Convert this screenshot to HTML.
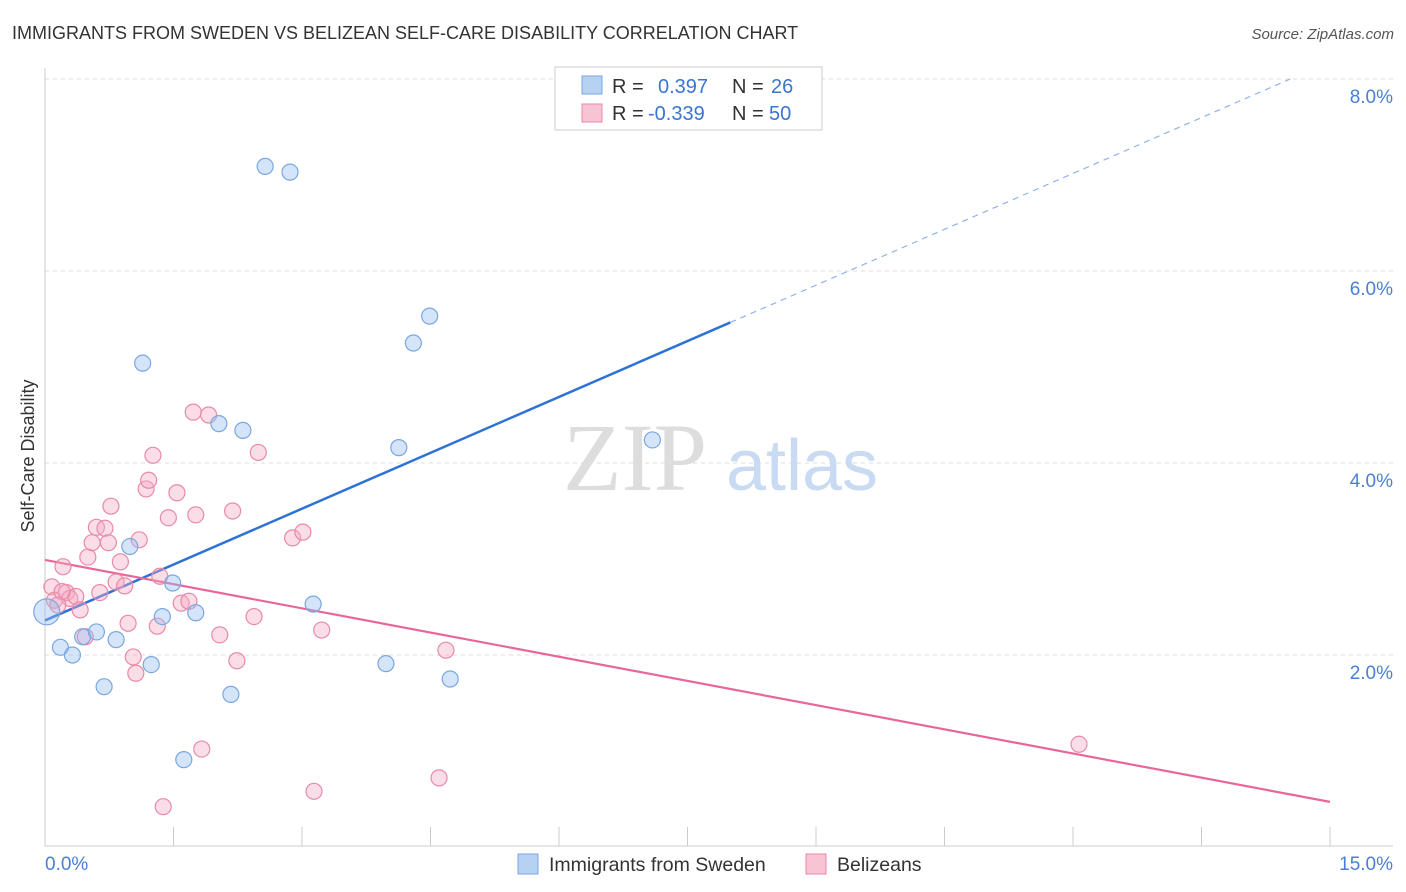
<!DOCTYPE html>
<html><head><meta charset="utf-8"><style>
body{margin:0;background:#fff;font-family:"Liberation Sans",sans-serif}
svg{display:block}
</style></head><body>
<svg id="chart" width="1406" height="892">
<text x="12" y="39" font-size="18" fill="#333">IMMIGRANTS FROM SWEDEN VS BELIZEAN SELF-CARE DISABILITY CORRELATION CHART</text>
<text x="1394" y="39" font-size="15" fill="#555" font-style="italic" text-anchor="end">Source: ZipAtlas.com</text>
<text transform="translate(34,456) rotate(-90)" font-size="18" fill="#333" text-anchor="middle">Self-Care Disability</text>
<g id="grid"></g>
<g>
<text x="635" y="490" font-size="96" fill="#ddd" font-family="Liberation Serif,serif" text-anchor="middle">ZIP</text>
<text x="802" y="490" font-size="72" fill="#c9daf3" text-anchor="middle">atlas</text>
</g>
<g id="lines"></g>
<g id="points"></g>
<g>
<rect x="555" y="67" width="267" height="63" fill="#fff" stroke="#ccc"/>
<rect x="582" y="76" width="20" height="18" fill="#b7d1f3" stroke="#7aa7e0"/>
<rect x="582" y="104" width="20" height="18" fill="#f8c3d3" stroke="#e88aa8"/>
<text x="612" y="93" font-size="20" fill="#333">R = <tspan fill="#3a75d0" x="658">0.397</tspan><tspan x="732" fill="#333">N = </tspan><tspan fill="#3a75d0" x="771">26</tspan></text>
<text x="612" y="120" font-size="20" fill="#333">R = <tspan fill="#3a75d0" x="648">-0.339</tspan><tspan x="732" fill="#333">N = </tspan><tspan fill="#3a75d0" x="769">50</tspan></text>
</g>
<g>
<rect x="518" y="854" width="20" height="20" fill="#b7d1f3" stroke="#7aa7e0"/>
<text x="549" y="871" font-size="19.5" fill="#333">Immigrants from Sweden</text>
<rect x="806" y="854" width="20" height="20" fill="#f8c3d3" stroke="#e88aa8"/>
<text x="837" y="871" font-size="19.5" fill="#333">Belizeans</text>
</g>
</svg>
<script>
const yTicks=[2,4,6,8];
const yTickLabels=["2.0%","4.0%","6.0%","8.0%"];
const xTicks=[1.5,3,4.5,6,7.5,9,10.5,12,13.5,15];
const blueX=[0.02,0.18,0.32,0.44,0.60,0.69,0.83,0.99,1.14,1.24,1.37,1.49,1.62,1.76,2.03,2.17,2.31,2.57,2.86,3.13,3.98,4.13,4.30,4.49,4.73,7.09];
const blueY=[2.45,2.08,2.00,2.19,2.24,1.67,2.16,3.13,5.04,1.90,2.40,2.75,0.91,2.44,4.41,1.59,4.34,7.09,7.03,2.53,1.91,4.16,5.25,5.53,1.75,4.24];
const pinkX=[0.08,0.11,0.21,0.25,0.29,0.36,0.41,0.47,0.50,0.55,0.60,0.64,0.70,0.74,0.77,0.83,0.88,0.93,0.97,1.03,1.06,1.10,1.18,1.21,1.26,1.31,1.34,1.38,1.44,1.54,1.59,1.68,1.73,1.76,1.83,1.91,2.04,2.19,2.24,2.44,2.49,2.89,3.01,3.14,3.23,4.60,4.68,12.07,0.20,0.15];
const pinkY=[2.71,2.57,2.92,2.65,2.59,2.61,2.47,2.19,3.02,3.17,3.33,2.65,3.32,3.17,3.55,2.76,2.97,2.72,2.33,1.98,1.81,3.20,3.73,3.82,4.08,2.30,2.82,0.42,3.43,3.69,2.54,2.56,4.53,3.46,1.02,4.50,2.21,3.50,1.94,2.40,4.11,3.22,3.28,0.58,2.26,0.72,2.05,1.07,2.66,2.52];
const blueLine=[2.36,0.388];
const pinkLine=[2.99,-0.168];
const X=v=>45+v/15*1285, Y=v=>847-v*96;
const NS="http://www.w3.org/2000/svg";
function mk(t,a,p){const e=document.createElementNS(NS,t);for(const k in a)e.setAttribute(k,a[k]);p.appendChild(e);return e;}
const g=document.getElementById('grid');
yTicks.forEach((t,i)=>{
 const l=mk('line',{x1:45,x2:1393,y1:Y(t),y2:Y(t),stroke:'#ddd','stroke-dasharray':'4,4'},g);
 
 
 const tx=mk('text',{x:1393,y:Y(t)+24,'font-size':19,fill:'#4a7fd4','text-anchor':'end'},g);
 tx.textContent=yTickLabels[i];
 
 
});
const ya=mk('line',{x1:45,x2:45,y1:68,y2:846,stroke:'#ccc'},g);


const xa=mk('line',{x1:45,x2:1393,y1:846,y2:846,stroke:'#ccc'},g);


xTicks.forEach(t=>{const l=mk('line',{x1:X(t),x2:X(t),y1:827,y2:846,stroke:'#ccc'},g);
 
 });
const t0=mk('text',{x:45,y:870,'font-size':19,fill:'#4a7fd4'},g);t0.textContent='0.0%';


const t1=mk('text',{x:1393,y:870,'font-size':19,fill:'#4a7fd4','text-anchor':'end'},g);t1.textContent='15.0%';


const pg=document.getElementById('points');
pinkX.forEach((x,i)=>{const c=mk('circle',{cx:X(x),cy:Y(pinkY[i]),r:8,fill:'rgba(245,170,195,0.4)',stroke:'#e88aa8','stroke-width':1.2},pg);
 
 });
blueX.forEach((x,i)=>{const c=mk('circle',{cx:X(x),cy:Y(blueY[i]),r:i==0?13:8,fill:'rgba(150,190,240,0.4)',stroke:'#7aa7e0','stroke-width':1.2},pg);
 
 });
const lg=document.getElementById('lines');
const xe=8, xd=(8-blueLine[0])/blueLine[1];
const b1=mk('line',{x1:X(0),y1:Y(blueLine[0]),x2:X(xe),y2:Y(blueLine[0]+blueLine[1]*xe),stroke:'#2f72d6','stroke-width':2.5},lg);


const b2=mk('line',{x1:X(xe),y1:Y(blueLine[0]+blueLine[1]*xe),x2:X(xd),y2:Y(8),stroke:'#8fb3e8','stroke-width':1.2,'stroke-dasharray':'6,5'},lg);


const p1=mk('line',{x1:X(0),y1:Y(pinkLine[0]),x2:X(15),y2:Y(pinkLine[0]+pinkLine[1]*15),stroke:'#e8679a','stroke-width':2.2},lg);


</script>
</body></html>
